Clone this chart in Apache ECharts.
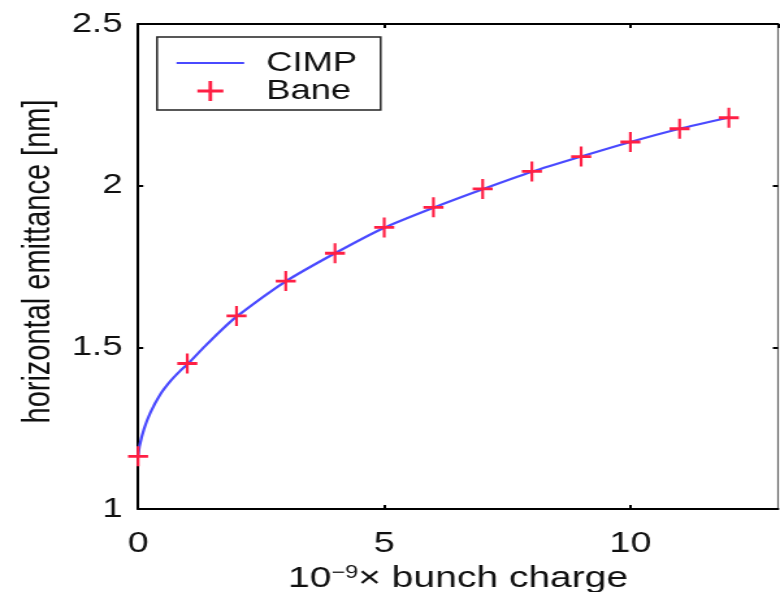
<!DOCTYPE html>
<html>
<head>
<meta charset="utf-8">
<script src="https://cdn.jsdelivr.net/npm/echarts@6/dist/echarts.min.js"></script>
<style>
  html, body { margin: 0; padding: 0; background: #fff; overflow: hidden; }
  /* the figure is drawn on a narrower canvas and widened, giving the stretched print look */
  #chart { width: 600px; height: 592px; transform: scaleX(1.3); transform-origin: 0 0; }
</style>
</head>
<body>
<div id="chart"></div>
<script>
// axis ticks
const xTicks = [0, 5, 10];
const xMax = 13;
const yTicks = [1, 1.5, 2, 2.5];

// CIMP model curve: bunch charge (1e9) and horizontal emittance (nm)
const cimpCharge = [0, 0.03, 0.12, 0.25, 0.45, 0.66, 0.86, 1, 1.35, 1.69, 2, 3, 4, 5, 6, 7, 8, 9, 10, 11, 12];
const cimpEmit   = [1.161, 1.195, 1.247, 1.298, 1.354, 1.396, 1.428, 1.447, 1.502, 1.553, 1.595, 1.704, 1.791, 1.870, 1.932, 1.989, 2.043, 2.090, 2.135, 2.176, 2.211];

// Bane calculation points
const baneCharge = [0, 1, 2, 3, 4, 5, 6, 7, 8, 9, 10, 11, 12];
const baneEmit   = [1.163, 1.450, 1.597, 1.705, 1.791, 1.871, 1.933, 1.990, 2.044, 2.090, 2.135, 2.176, 2.210];

const FONT = '"Liberation Sans", Arial, Helvetica, sans-serif';
const INK = '#111';
const BLUE = '#4a4aff';
const RED = '#ff1f44';
const plusPath = 'path://M0,8.6 H20 V11.4 H0 Z M8.6,0 H11.4 V20 H8.6 Z';
const dashPath = 'path://M0,9 H52 V11.2 H0 Z';

const chart = echarts.init(document.getElementById('chart'), null, { renderer: 'canvas' });

const baseAxis = {
  type: 'value',
  splitLine: { show: false },
  axisLine: { show: true, onZero: false, lineStyle: { color: '#000', width: 2 } },
  axisTick: { show: true, inside: true, length: 4, lineStyle: { color: '#000', width: 2 } },
};

chart.setOption({
  animation: false,
  backgroundColor: '#fff',
  grid: { left: 106.2, right: 1.5, top: 24, bottom: 83, containLabel: false, outerBoundsMode: 'none' },
  legend: {
    left: 120.8, top: 37,
    orient: 'vertical',
    padding: [12, 18, 5, 15],
    itemGap: 0,
    itemWidth: 52,
    itemHeight: 20,
    backgroundColor: '#fff',
    borderColor: '#222',
    borderWidth: 1.5,
    borderRadius: 0,
    textStyle: { fontFamily: FONT, fontSize: 28, color: INK, padding: [0, 0, 0, 12] },
    data: [
      { name: 'CIMP', icon: dashPath, itemStyle: { color: BLUE } },
      { name: 'Bane', icon: plusPath, itemStyle: { color: RED } }
    ]
  },
  xAxis: [
    Object.assign({}, baseAxis, {
      position: 'bottom',
      min: xTicks[0], max: xMax, interval: xTicks[1] - xTicks[0],
      axisLabel: { show: true, showMaxLabel: false, margin: 20, fontFamily: FONT, fontSize: 29, color: INK },
      name: '{a|10}{s|\u22129}{a|\u00d7 bunch charge}',
      nameLocation: 'middle',
      nameGap: 55,
      nameTextStyle: {
        fontFamily: FONT, fontSize: 30, color: INK,
        rich: {
          a: { fontFamily: FONT, fontSize: 30, color: INK },
          s: { fontFamily: FONT, fontSize: 18, color: INK, verticalAlign: 'top', padding: [0, 0, 10, 0] }
        }
      }
    }),
    Object.assign({}, baseAxis, {
      position: 'top',
      min: xTicks[0], max: xMax, interval: xTicks[1] - xTicks[0],
      axisLabel: { show: false }
    })
  ],
  yAxis: [
    Object.assign({}, baseAxis, {
      position: 'left',
      min: yTicks[0], max: yTicks[yTicks.length - 1], interval: yTicks[1] - yTicks[0],
      axisLabel: { show: true, margin: 12, fontFamily: FONT, fontSize: 28, color: INK },
      name: 'horizontal emittance [nm]',
      nameLocation: 'middle',
      nameGap: 62,
      nameRotate: 90,
      nameTextStyle: { fontFamily: FONT, fontSize: 29, color: INK, padding: [0, 0, 0, 10] }
    }),
    Object.assign({}, baseAxis, {
      position: 'right',
      min: yTicks[0], max: yTicks[yTicks.length - 1], interval: yTicks[1] - yTicks[0],
      axisLine: { show: true, onZero: false, lineStyle: { color: '#666', width: 1.2 } },
      axisLabel: { show: false }
    })
  ],
  series: [
    {
      name: 'CIMP',
      type: 'line',
      data: cimpCharge.map((q, i) => [q, cimpEmit[i]]),
      smooth: 0.2,
      symbol: 'none',
      lineStyle: { color: BLUE, width: 2.2, join: 'round' },
      itemStyle: { color: BLUE },
      z: 2
    },
    {
      name: 'Bane',
      type: 'scatter',
      data: baneCharge.map((q, i) => [q, baneEmit[i]]),
      symbol: plusPath,
      symbolKeepAspect: false,
      symbolSize: [15.4, 20],
      itemStyle: { color: RED, opacity: 1 },
      z: 3
    }
  ]
});
</script>
</body>
</html>
